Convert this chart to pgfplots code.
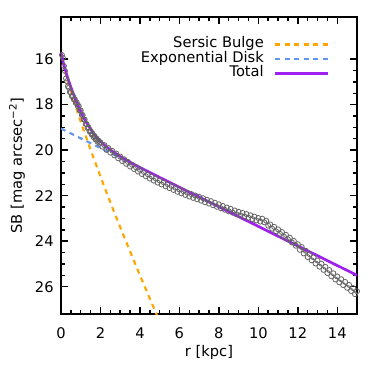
\documentclass[border=0pt]{standalone}
\usepackage{fontspec}
\setmainfont{DejaVu Sans}
\usepackage{pgfplots}
\pgfplotsset{compat=1.18}
\usetikzlibrary{calc}
\definecolor{bulge}{RGB}{255,165,0}
\definecolor{disk}{RGB}{100,149,237}
\definecolor{total}{RGB}{160,32,240}
\definecolor{pts}{RGB}{100,100,100}

\begin{document}
\begin{tikzpicture}
\begin{axis}[
  scale only axis, width=222pt, height=222.75pt,
  xmin=0, xmax=15, ymin=14.15, ymax=27.2, y dir=reverse,
  xtick={0,2,...,14}, ytick={16,18,...,26},
  minor x tick num=3, minor y tick num=3,
  major tick length=5.25pt, minor tick length=3pt,
  tick style={line width=1.1pt, black},
  axis line style={line width=1.3pt},
  font=\fontsize{11}{13}\selectfont,
  /pgf/number format/assume math mode=true,
  xticklabel style={yshift=-7pt},
  yticklabel style={xshift=-2pt},
  xlabel={r [kpc]}, ylabel={SB [mag arcsec\textsuperscript{−2}]},
  xlabel style={at={(axis description cs:0.5,-0.13)}, anchor=center},
  ylabel style={at={(axis description cs:-0.149,0.5)}, anchor=center},
  legend style={draw=none, fill=none, at={(axis description cs:0.909,0.933)},
    anchor=north east, inner sep=0pt, row sep=0pt,
    nodes={inner sep=0pt, text height=8pt, text depth=2.9pt},
    /tikz/every odd column/.append style={column sep=7.5pt}},
  legend cell align=right, legend plot pos=right,
  legend image code/.code={\draw[mark repeat=2,mark phase=2] plot coordinates {(0pt,0pt) (40pt,0pt)};},
]
% measured profile
\addplot[only marks, mark=o, mark size=1.9pt, pts, line width=0.6pt, forget plot] coordinates {
(0.05,15.82) (0.10,15.95) (0.15,16.30) (0.20,16.52) (0.25,16.85) (0.30,16.97)
(0.35,17.20) (0.40,17.26) (0.45,17.45) (0.50,17.46) (0.55,17.63) (0.60,17.61)
(0.65,17.77) (0.70,17.76) (0.75,17.93) (0.80,17.91) (0.85,18.07) (0.90,18.06)
(0.95,18.25) (1.00,18.26) (1.05,18.45) (1.10,18.46) (1.15,18.65) (1.20,18.66)
(1.25,18.85) (1.30,18.86) (1.35,19.03) (1.40,19.01) (1.45,19.18) (1.50,19.16)
(1.55,19.31) (1.60,19.28) (1.65,19.43) (1.70,19.39) (1.75,19.53) (1.80,19.49)
(1.85,19.63) (1.90,19.58) (1.95,19.71) (2.00,19.66)
(2.1,19.85) (2.2,19.78) (2.3,19.99) (2.4,19.91) (2.5,20.11) (2.6,20.03) (2.7,20.23) (2.8,20.15) (2.9,20.36) (3.0,20.28)
(3.1,20.48) (3.2,20.40) (3.3,20.60) (3.4,20.52) (3.5,20.72) (3.6,20.64) (3.7,20.83) (3.8,20.75) (3.9,20.94) (4.0,20.86)
(4.1,21.05) (4.2,20.96) (4.3,21.15) (4.4,21.06) (4.5,21.25) (4.6,21.15) (4.7,21.34) (4.8,21.24) (4.9,21.43) (5.0,21.33)
(5.1,21.51) (5.2,21.41) (5.3,21.59) (5.4,21.49) (5.5,21.67) (5.6,21.57) (5.7,21.75) (5.8,21.65) (5.9,21.83) (6.0,21.73)
(6.1,21.90) (6.2,21.80) (6.3,21.97) (6.4,21.87) (6.5,22.04) (6.6,21.93) (6.7,22.10) (6.8,21.99) (6.9,22.16) (7.0,22.05)
(7.1,22.22) (7.2,22.11) (7.3,22.29) (7.4,22.18) (7.5,22.35) (7.6,22.24) (7.7,22.42) (7.8,22.31) (7.9,22.49) (8.0,22.38)
(8.1,22.55) (8.2,22.45) (8.3,22.62) (8.4,22.52) (8.5,22.69) (8.6,22.58) (8.7,22.75) (8.8,22.65) (8.9,22.82) (9.0,22.71)
(9.1,22.87) (9.2,22.76) (9.3,22.92) (9.4,22.81) (9.5,22.97) (9.6,22.86) (9.7,23.03) (9.8,22.92) (9.9,23.09) (10.0,22.98)
(10.1,23.14) (10.2,23.01) (10.3,23.17) (10.4,23.10) (10.5,23.32) (10.6,23.26) (10.7,23.45) (10.8,23.37) (10.9,23.57) (11.0,23.48)
(11.1,23.68) (11.2,23.60) (11.3,23.80) (11.4,23.72) (11.5,23.92) (11.6,23.85) (11.7,24.06) (11.8,23.99) (11.9,24.20) (12.0,24.13)
(12.1,24.38) (12.2,24.26) (12.3,24.54) (12.4,24.42) (12.5,24.70) (12.6,24.57) (12.7,24.84) (12.8,24.71) (12.9,24.98) (13.0,24.85)
(13.1,25.12) (13.2,24.99) (13.3,25.26) (13.4,25.13) (13.5,25.40) (13.6,25.27) (13.7,25.54) (13.8,25.41) (13.9,25.68) (14.0,25.55)
(14.1,25.81) (14.2,25.67) (14.3,25.93) (14.4,25.79) (14.5,26.05) (14.6,25.92) (14.7,26.19) (14.8,26.06) (14.9,26.33) (15.0,26.20)
};
% Sersic bulge
\addplot[bulge, line width=1.6pt, dash pattern=on 3.75pt off 3.4pt] coordinates {
(0,15.75) (0.1,16.17) (0.2,16.51) (0.3,16.83) (0.4,17.13) (0.5,17.41) (0.6,17.69)
(0.7,17.97) (0.8,18.23) (0.9,18.49) (1.0,18.75) (1.2,19.25) (1.4,19.74) (1.6,20.22)
(1.8,20.69) (2.0,21.16) (2.4,22.07) (2.8,22.95) (3.0,23.38) (3.5,24.45) (4.0,25.50)
(4.5,26.52) (5.0,27.53)
};
\addlegendentry{Sersic Bulge}
% exponential disk
\addplot[disk, line width=1.6pt, dash pattern=on 3.75pt off 3.4pt] coordinates {
(0,19.05) (15,25.50)
};
\addlegendentry{Exponential Disk}
% total
\addplot[total, line width=2pt] coordinates {
(0,15.70) (0.1,16.10) (0.2,16.42) (0.3,16.71) (0.4,16.98) (0.5,17.23) (0.6,17.47)
(0.7,17.70) (0.8,17.91) (0.9,18.11) (1.0,18.30) (1.1,18.48) (1.2,18.65) (1.3,18.80)
(1.4,18.94) (1.5,19.08) (1.6,19.20) (1.7,19.32) (1.8,19.42) (1.9,19.52) (2.0,19.61)
(2.2,19.78) (2.4,19.92) (2.6,20.05) (2.8,20.16) (3.0,20.28) (3.5,20.53) (4.0,20.76)
(4.5,20.98) (5.0,21.20) (15,25.50)
};
\addlegendentry{Total}
\end{axis}
\path ($(current axis.south west)+(-45.75pt,-48pt)$) rectangle ($(current axis.north east)+(12.75pt,12.75pt)$);
\end{tikzpicture}
\end{document}
